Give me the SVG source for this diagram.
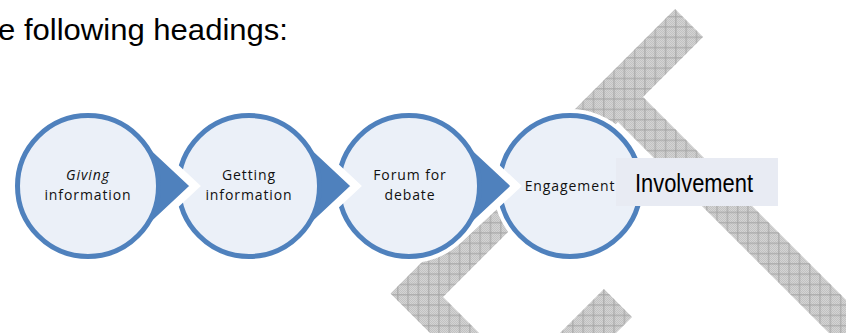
<svg xmlns="http://www.w3.org/2000/svg" width="846" height="333" viewBox="0 0 846 333">
  <defs>
    <!-- fine stipple base for the hatched watermark -->
    <pattern id="stipple" width="2" height="2" patternUnits="userSpaceOnUse">
      <rect width="2" height="2" fill="#d4d4d4"/>
      <rect width="1" height="1" fill="#c2c2c2"/>
      <rect x="1" y="1" width="1" height="1" fill="#c2c2c2"/>
    </pattern>
    <!-- square grid laid over the stipple -->
    <pattern id="grid" x="0.9" y="0.9" width="10.3" height="10.3" patternUnits="userSpaceOnUse">
      <rect x="5" y="0" width="1" height="10.3" fill="#a2a2a2"/>
      <rect x="0" y="5" width="10.3" height="1" fill="#a2a2a2"/>
    </pattern>
    <style>
      .halo { fill: #4f81bd; stroke: #ffffff; stroke-width: 8; stroke-linejoin: miter; }
      .disc { fill: #ebf0f8; stroke: #4f81bd; stroke-width: 5; }
      .lbl { font-family: "Open Sans", "Liberation Sans", sans-serif; font-size: 14px; letter-spacing: 0.9px; fill: #111111; text-anchor: middle; }
      .head { font-family: "Liberation Sans", Arial, sans-serif; fill: #000000; }
    </style>
  </defs>

  <rect width="846" height="333" fill="#ffffff"/>

  <!-- heading line -->
  <text class="head" x="-2" y="40" font-size="29" textLength="290" lengthAdjust="spacingAndGlyphs">e following headings:</text>

  <!-- hatched chevron watermark -->
  <g id="watermark">
    <g fill="url(#stipple)">
      <polygon points="675,9 703,37 643,97 960,414 910,414 618,122 443,297 560,414 511,414 390.5,293.5"/>
      <polygon points="604,289 632,317 590,359 534,359"/>
    </g>
    <g fill="url(#grid)">
      <polygon points="675,9 703,37 643,97 960,414 910,414 618,122 443,297 560,414 511,414 390.5,293.5"/>
      <polygon points="604,289 632,317 590,359 534,359"/>
    </g>
  </g>

  <!-- process steps, drawn right to left so each pointer sits over the next disc -->
  <g id="step-engagement">
    <circle class="halo" cx="570" cy="186" r="73"/>
    <circle class="disc" cx="570" cy="186" r="70.5"/>
    <text class="lbl" x="570" y="191">Engagement</text>
  </g>

  <g id="step-forum">
    <path class="halo" d="M516,186 L458.8,132.6 A73,73 0 1,0 458.8,239.4 Z"/>
    <circle class="disc" cx="409" cy="186" r="70.5"/>
    <text class="lbl" x="410" y="180">Forum for</text>
    <text class="lbl" x="410" y="200">debate</text>
  </g>

  <g id="step-getting">
    <path class="halo" d="M356,186 L298.8,132.6 A73,73 0 1,0 298.8,239.4 Z"/>
    <circle class="disc" cx="249" cy="186" r="70.5"/>
    <text class="lbl" x="249" y="180">Getting</text>
    <text class="lbl" x="249" y="200">information</text>
  </g>

  <g id="step-giving">
    <path class="halo" d="M195,186 L137.8,132.6 A73,73 0 1,0 137.8,239.4 Z"/>
    <circle class="disc" cx="88" cy="186" r="70.5"/>
    <text class="lbl" x="88" y="180" font-style="italic">Giving</text>
    <text class="lbl" x="88" y="200">information</text>
  </g>

  <!-- outcome label -->
  <g id="involvement">
    <rect x="616" y="158" width="162" height="48" fill="#e8ebf3"/>
    <text class="head" x="635" y="192" font-size="25" textLength="118" lengthAdjust="spacingAndGlyphs">Involvement</text>
  </g>
</svg>
